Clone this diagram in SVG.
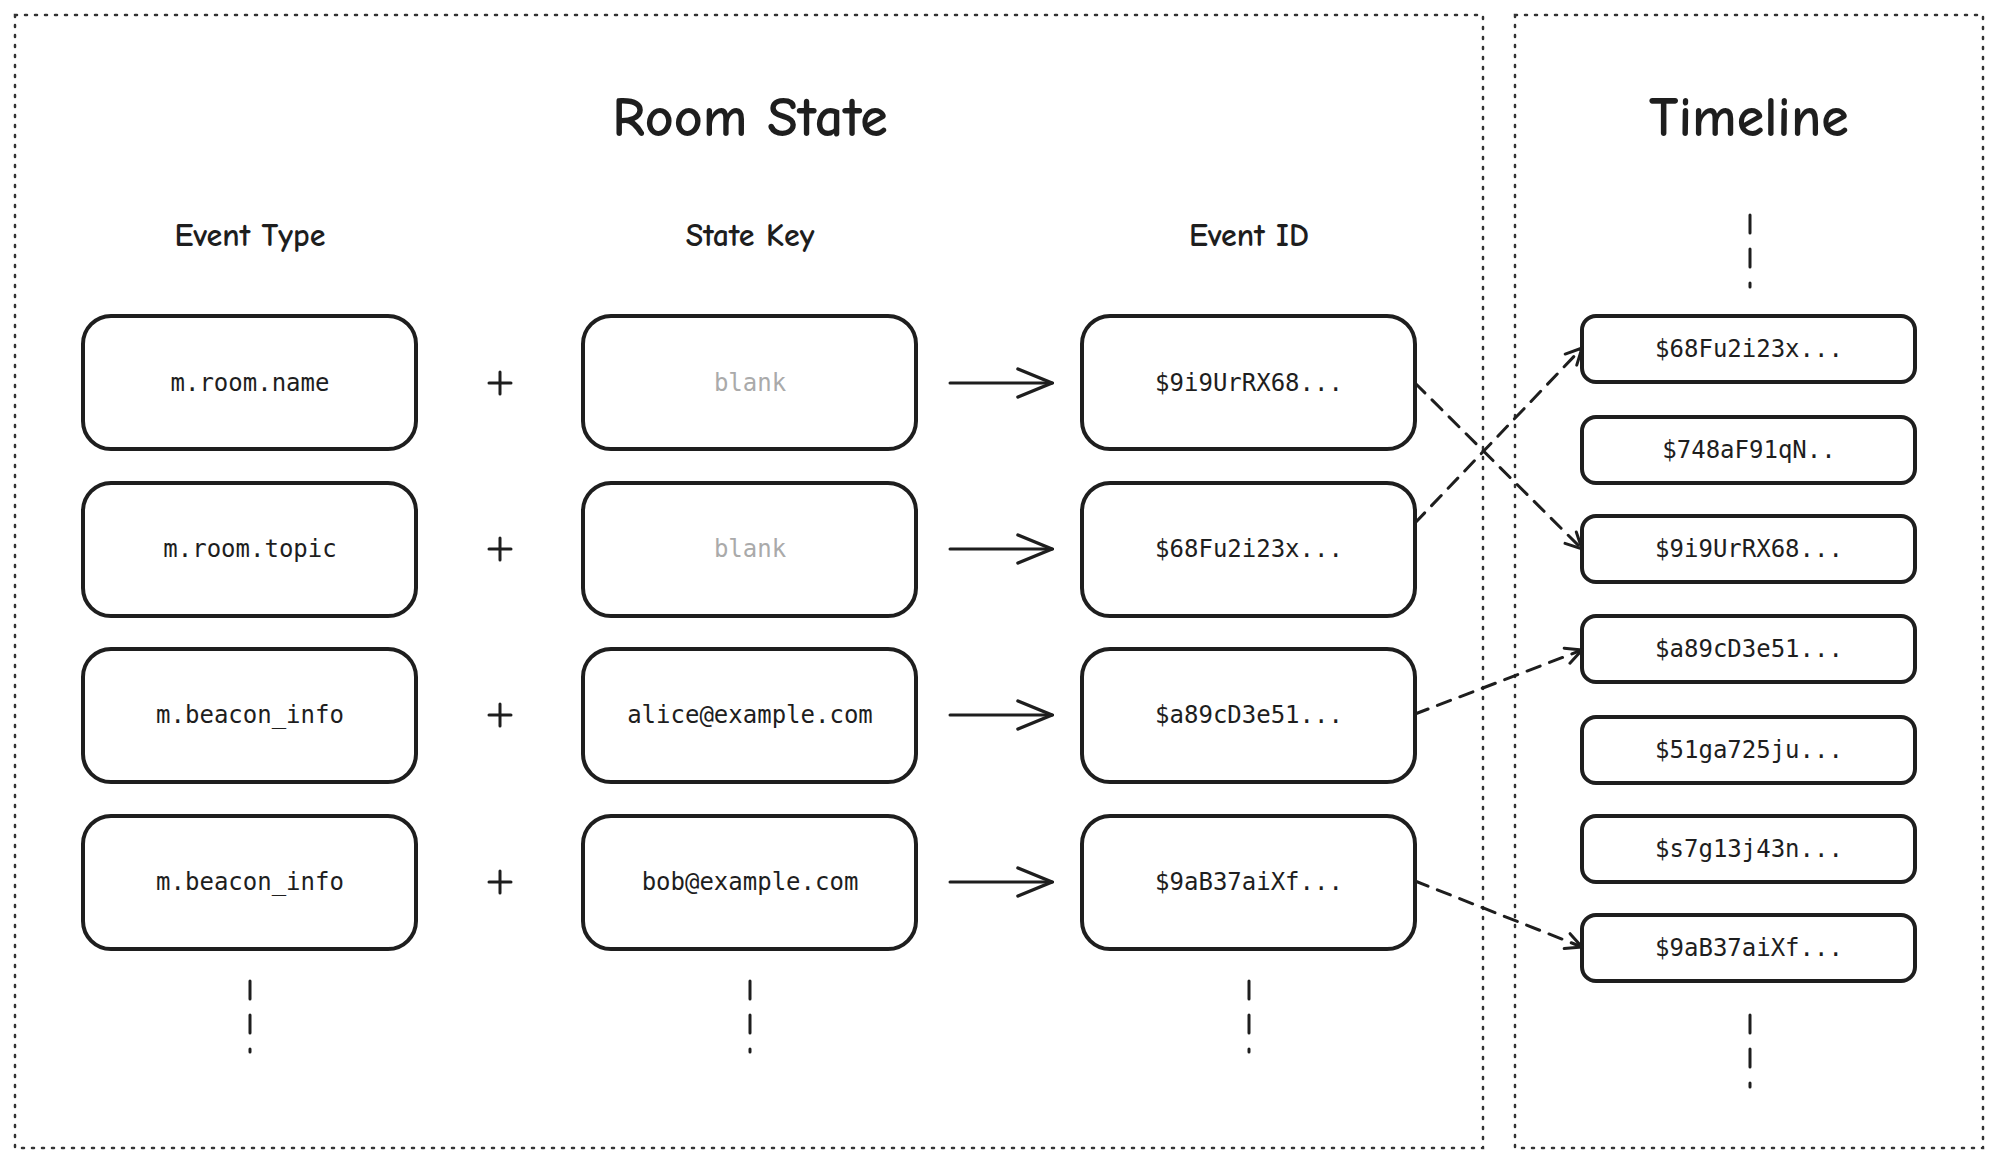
<svg xmlns="http://www.w3.org/2000/svg" width="1999" height="1167" viewBox="0 0 1999 1167">
<defs>
<style>
.frame{fill:none;stroke:#333;stroke-width:2.5;stroke-dasharray:2 8;stroke-linecap:round}
.n{fill:#fff;stroke:#1e1e1e;stroke-width:4}
.t{font-family:"DejaVu Sans Mono","Liberation Mono",monospace;font-size:24px;fill:#1e1e1e;text-anchor:middle;dominant-baseline:central}
.g{fill:#aaa}
.h{font-family:"Comic Neue","Noto Sans",sans-serif;fill:#1e1e1e;text-anchor:middle;font-weight:bold}
.c{stroke:#1e1e1e;stroke-width:3;fill:none;stroke-linecap:round}
.d{stroke-dasharray:14 10}
.v{stroke-dasharray:18 16}
</style>
<marker id="a" viewBox="0 0 20 20" refX="18" refY="10" markerWidth="20" markerHeight="20" markerUnits="userSpaceOnUse" orient="auto"><path d="M2 2 L18 10 L2 18" fill="none" stroke="#1e1e1e" stroke-width="3" stroke-linecap="round"/></marker>
<marker id="b" viewBox="0 0 40 40" refX="38" refY="20" markerWidth="40" markerHeight="40" markerUnits="userSpaceOnUse" orient="auto"><path d="M4 6 L38 20 L4 34" fill="none" stroke="#1e1e1e" stroke-width="3.5" stroke-linecap="round"/></marker>
</defs>
<rect width="1999" height="1167" fill="#fff"/>
<rect class="frame" x="15" y="15" width="1468" height="1133"/>
<rect class="frame" x="1515" y="15" width="468" height="1133"/>
<text class="h" x="750" y="136" font-size="56">Room State</text>
<text class="h" x="1749" y="136" font-size="56">Timeline</text>
<text class="h" x="250" y="246" font-size="32">Event Type</text>
<text class="h" x="750" y="246" font-size="32">State Key</text>
<text class="h" x="1249" y="246" font-size="32">Event ID</text>
<g id="n1"><rect class="n" x="83" y="316" width="333" height="133" rx="28"/><text class="t" x="250" y="383">m.room.name</text></g>
<g id="n2"><rect class="n" x="83" y="483" width="333" height="133" rx="28"/><text class="t" x="250" y="549">m.room.topic</text></g>
<g id="n3"><rect class="n" x="83" y="649" width="333" height="133" rx="28"/><text class="t" x="250" y="715">m.beacon_info</text></g>
<g id="n4"><rect class="n" x="83" y="816" width="333" height="133" rx="28"/><text class="t" x="250" y="882">m.beacon_info</text></g>
<g id="k1"><rect class="n" x="583" y="316" width="333" height="133" rx="28"/><text class="t g" x="750" y="383">blank</text></g>
<g id="k2"><rect class="n" x="583" y="483" width="333" height="133" rx="28"/><text class="t g" x="750" y="549">blank</text></g>
<g id="k3"><rect class="n" x="583" y="649" width="333" height="133" rx="28"/><text class="t" x="750" y="715">alice@example.com</text></g>
<g id="k4"><rect class="n" x="583" y="816" width="333" height="133" rx="28"/><text class="t" x="750" y="882">bob@example.com</text></g>
<g id="e1"><rect class="n" x="1082" y="316" width="333" height="133" rx="28"/><text class="t" x="1249" y="383">$9i9UrRX68...</text></g>
<g id="e2"><rect class="n" x="1082" y="483" width="333" height="133" rx="28"/><text class="t" x="1249" y="549">$68Fu2i23x...</text></g>
<g id="e3"><rect class="n" x="1082" y="649" width="333" height="133" rx="28"/><text class="t" x="1249" y="715">$a89cD3e51...</text></g>
<g id="e4"><rect class="n" x="1082" y="816" width="333" height="133" rx="28"/><text class="t" x="1249" y="882">$9aB37aiXf...</text></g>
<g id="t1"><rect class="n" x="1582" y="316" width="333" height="66" rx="14"/><text class="t" x="1749" y="349">$68Fu2i23x...</text></g>
<g id="t2"><rect class="n" x="1582" y="417" width="333" height="66" rx="14"/><text class="t" x="1749" y="450">$748aF91qN..</text></g>
<g id="t3"><rect class="n" x="1582" y="516" width="333" height="66" rx="14"/><text class="t" x="1749" y="549">$9i9UrRX68...</text></g>
<g id="t4"><rect class="n" x="1582" y="616" width="333" height="66" rx="14"/><text class="t" x="1749" y="649">$a89cD3e51...</text></g>
<g id="t5"><rect class="n" x="1582" y="717" width="333" height="66" rx="14"/><text class="t" x="1749" y="750">$51ga725ju...</text></g>
<g id="t6"><rect class="n" x="1582" y="816" width="333" height="66" rx="14"/><text class="t" x="1749" y="849">$s7g13j43n...</text></g>
<g id="t7"><rect class="n" x="1582" y="915" width="333" height="66" rx="14"/><text class="t" x="1749" y="948">$9aB37aiXf...</text></g>
<g id="plus" class="c" stroke-width="4.5">
<path d="M489 383h22M500 372v22M489 549h22M500 538v22M489 715h22M500 704v22M489 882h22M500 871v22"/>
</g>
<g id="connectors">
<path class="c" stroke-width="3.5" d="M950 383H1052" marker-end="url(#b)"/>
<path class="c" stroke-width="3.5" d="M950 549H1052" marker-end="url(#b)"/>
<path class="c" stroke-width="3.5" d="M950 715H1052" marker-end="url(#b)"/>
<path class="c" stroke-width="3.5" d="M950 882H1052" marker-end="url(#b)"/>
<path class="c d" d="M1415 383L1582 549" marker-end="url(#a)"/>
<path class="c d" d="M1415 523L1582 348" marker-end="url(#a)"/>
<path class="c d" d="M1415 714L1582 650" marker-end="url(#a)"/>
<path class="c d" d="M1415 881L1582 947" marker-end="url(#a)"/>
<path class="c v" d="M250 981V1052M750 981V1052M1249 981V1052M1750 215V287M1750 1015V1087"/>
</g>
</svg>
